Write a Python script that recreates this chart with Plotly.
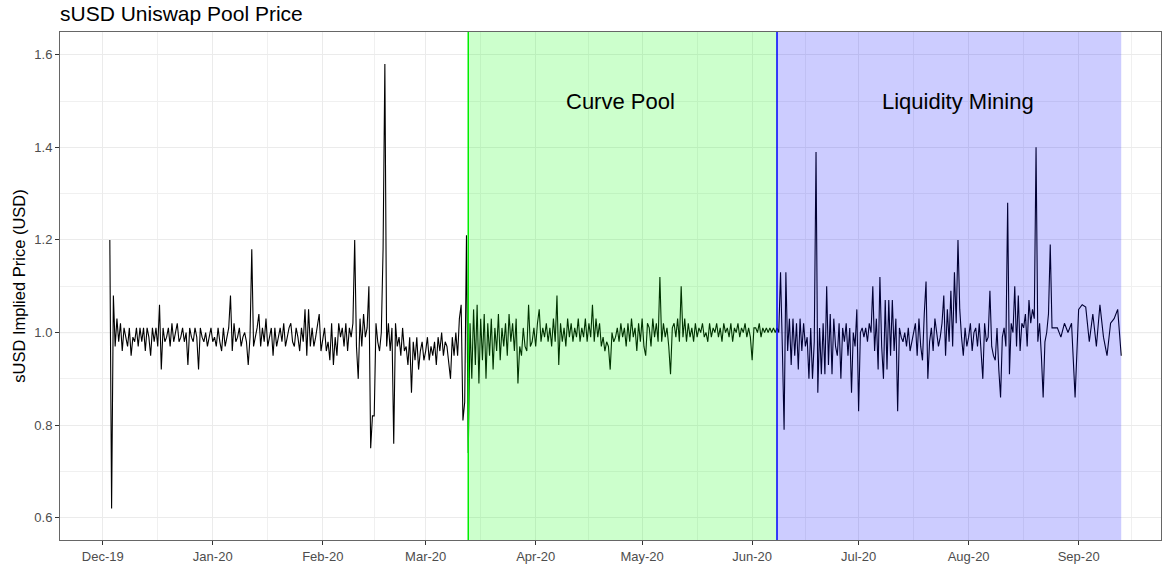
import pandas as pd
import plotly.graph_objects as go

# ---------------- data ----------------
# Two observations per day (00:00, 12:00), listed month by month
dec_2019_start = "2019-12-03"
dec_2019 = [1.20, 0.62, 1.08, 0.97, 1.03, 0.98, 1.02, 0.96, 1.01, 0.99, 0.97, 1.01, 0.95, 0.99,
            0.98, 1.01, 0.97, 1.01, 0.98, 1.01, 0.96, 1.01, 0.99, 0.95, 1.01, 0.98, 1.01, 0.97,
            1.06, 0.92, 1.01, 0.98, 0.99, 1.01, 0.97, 1.02, 0.98, 1.00, 1.02, 0.98, 0.99, 1.01,
            0.98, 1.00, 0.93, 1.01, 0.99, 0.98, 1.01, 0.99, 0.92, 1.01, 0.99, 0.98, 1.00, 0.97,
            0.99, 1.01]
jan_2020_start = "2020-01-01"
jan_2020 = [0.98, 0.99, 0.97, 1.01, 0.98, 0.96, 1.01, 0.97, 0.99, 1.01, 1.08, 0.96, 1.02, 0.98,
            0.99, 1.01, 0.97, 0.99, 1.00, 0.98, 0.93, 0.99, 1.18, 0.97, 0.99, 1.01, 1.04, 0.97,
            1.01, 0.98, 1.03, 0.97, 0.99, 1.01, 0.95, 1.01, 0.97, 0.99, 1.01, 0.98, 1.02, 0.97,
            0.99, 1.01, 1.02, 0.98, 0.97, 1.01, 0.99, 0.96, 1.01, 0.98, 1.05, 0.95, 1.05, 0.97,
            1.01, 0.97, 0.99, 1.02, 1.04, 0.96]
feb_2020_start = "2020-02-01"
feb_2020 = [0.99, 1.01, 0.96, 0.98, 0.94, 1.02, 0.93, 0.99, 0.95, 1.02, 0.99, 1.01, 0.97, 1.02,
            0.96, 1.01, 0.99, 1.02, 1.20, 0.97, 0.90, 1.03, 0.97, 1.04, 0.99, 1.01, 1.10, 0.75,
            0.82, 0.82, 1.02, 0.98, 0.96, 1.00, 1.18, 1.58, 0.97, 1.02, 0.96, 1.01, 0.76, 1.02,
            0.97, 0.99, 0.95, 1.01, 0.96, 0.97, 0.93, 0.99, 0.87, 0.98, 0.94, 0.99, 0.92, 0.96,
            0.98, 0.94]
mar_2020_start = "2020-03-01"
mar_2020 = [0.96, 0.99, 0.94, 0.97, 0.95, 0.98, 0.93, 0.99, 0.96, 1.00, 0.95, 0.98, 0.97, 0.93,
            0.90, 0.99, 0.95, 1.00, 0.95, 1.03, 1.06, 0.81, 0.85, 1.21, 0.74, 1.02, 0.90, 1.05,
            0.93, 1.06, 0.89, 1.03, 0.94, 1.04, 0.90, 1.02, 0.95, 1.03, 0.92, 1.01, 0.96, 1.04,
            0.94, 1.01, 0.97, 1.02, 0.95, 1.04, 0.98, 1.02, 0.96, 1.03, 0.89, 0.97, 0.95, 1.01,
            0.97, 0.96, 1.06, 0.97, 0.98, 1.01]
apr_2020_start = "2020-04-01"
apr_2020 = [0.97, 1.02, 1.05, 0.98, 1.01, 0.99, 1.02, 0.98, 1.01, 0.97, 1.03, 0.98, 1.08, 0.93,
            1.02, 0.98, 1.01, 0.97, 1.03, 0.99, 1.02, 0.98, 1.01, 0.99, 1.03, 0.98, 1.01, 0.99,
            1.03, 0.98, 1.02, 0.99, 1.06, 0.98, 1.03, 0.99, 1.02, 0.97, 0.99, 0.96, 0.98, 0.97,
            0.92, 1.00, 0.98, 0.99, 1.01, 0.98, 1.02, 0.99, 1.01, 0.97, 1.02, 0.98, 1.03, 0.99,
            1.01, 0.96, 1.02, 0.98]
may_2020_start = "2020-05-01"
may_2020 = [1.03, 0.97, 0.95, 1.02, 1.01, 0.97, 1.03, 0.99, 1.02, 0.98, 1.12, 0.98, 1.02, 0.99,
            1.01, 0.97, 0.91, 1.01, 1.02, 0.99, 1.03, 0.98, 1.10, 0.99, 1.03, 0.98, 1.02, 0.99,
            1.01, 0.98, 1.02, 0.99, 1.01, 1.00, 1.02, 0.99, 1.00, 0.98, 1.02, 0.99, 1.01, 1.00,
            1.02, 0.99, 1.01, 0.98, 1.02, 1.00, 1.01, 0.99, 1.02, 0.98, 1.01, 1.00, 1.02, 0.99,
            1.01, 1.00, 1.02, 0.99, 1.01, 0.99]
jun_2020_start = "2020-06-01"
jun_2020 = [0.94, 1.01, 1.01, 1.00, 1.02, 0.99, 1.01, 1.00, 1.01, 1.00, 1.01, 1.00, 1.01, 1.00,
            1.01, 1.00, 1.13, 0.97, 0.79, 1.13, 0.96, 1.03, 0.93, 1.03, 0.95, 1.02, 0.92, 1.03,
            0.96, 1.02, 0.97, 0.99, 0.90, 1.01, 0.90, 0.98, 1.39, 0.87, 1.01, 0.91, 1.02, 0.91,
            1.10, 0.93, 1.04, 0.91, 1.03, 0.97, 0.95, 1.02, 0.90, 1.01, 0.98, 1.02, 0.95, 1.01,
            0.87, 1.00, 0.97, 1.05]
jul_2020_start = "2020-07-01"
jul_2020 = [0.83, 1.00, 1.01, 0.99, 1.01, 0.98, 1.02, 1.00, 1.10, 0.96, 1.03, 0.92, 1.12, 0.97,
            0.90, 1.07, 0.92, 1.07, 0.95, 1.07, 0.96, 1.03, 0.83, 1.01, 0.99, 0.98, 1.00, 0.97,
            1.01, 0.96, 0.98, 1.00, 1.02, 0.95, 1.03, 0.97, 0.94, 1.04, 1.11, 0.90, 0.98, 1.01,
            0.96, 1.03, 1.00, 0.97, 0.99, 1.02, 1.08, 0.95, 1.05, 0.98, 1.09, 0.97, 1.13, 1.02,
            1.20, 1.05, 0.99, 0.95, 1.01, 0.97]
aug_2020_start = "2020-08-01"
aug_2020 = [0.99, 1.02, 0.96, 1.00, 1.01, 0.97, 1.02, 0.95, 0.90, 1.02, 0.98, 0.99, 1.09, 0.97,
            0.95, 0.94, 1.01, 0.92, 0.86, 0.99, 1.01, 0.97, 1.28, 0.91, 1.02, 1.00, 1.10, 0.97,
            1.08, 0.96, 1.02, 1.01, 1.04, 0.97, 1.07, 1.02, 1.05, 1.03, 1.40, 0.98, 1.02, 0.95,
            0.86, 0.98, 1.00, 1.04, 1.19, 1.01]
# One observation per day at the end of the series
late_start = "2020-08-25"
late_daily = [1.01, 1.01, 0.99, 1.02, 1.00, 1.02, 0.86, 1.05, 1.06, 1.055, 0.98, 1.04, 0.97,
              1.06, 0.99, 0.95, 1.02, 1.03, 1.05, 0.95]

# Period markers and labels
curve_pool_start = "2020-03-13"
liquidity_mining_start = "2020-06-08"
period_labels = ["Curve Pool", "Liquidity Mining"]
period_label_dates = ["2020-04-25", "2020-07-29"]
period_label_value = 1.5

# Axis ticks
month_ticks = ["2019-12-01", "2020-01-01", "2020-02-01", "2020-03-01", "2020-04-01",
               "2020-05-01", "2020-06-01", "2020-07-01", "2020-08-01", "2020-09-01"]
month_labels = ["Dec-19", "Jan-20", "Feb-20", "Mar-20", "Apr-20",
                "May-20", "Jun-20", "Jul-20", "Aug-20", "Sep-20"]
y_ticks = [0.6, 0.8, 1.0, 1.2, 1.4, 1.6]
y_minor = [0.7, 0.9, 1.1, 1.3, 1.5]

# ---------------- assemble series ----------------
half_daily_blocks = [(dec_2019_start, dec_2019), (jan_2020_start, jan_2020),
                     (feb_2020_start, feb_2020), (mar_2020_start, mar_2020),
                     (apr_2020_start, apr_2020), (may_2020_start, may_2020),
                     (jun_2020_start, jun_2020), (jul_2020_start, jul_2020),
                     (aug_2020_start, aug_2020)]
dates = []
prices = []
for start, vals in half_daily_blocks:
    dates.extend(pd.date_range(start, periods=len(vals), freq="12h"))
    prices.extend(vals)
dates.extend(pd.date_range(late_start, periods=len(late_daily), freq="D"))
prices.extend(late_daily)
series_end = dates[-1]

# minor x grid: midway between month ticks
mt = pd.to_datetime(month_ticks + ["2020-10-01"])
x_minor = [mt[i] + (mt[i + 1] - mt[i]) / 2 for i in range(len(mt) - 1)]

FONT = "Liberation Sans, Arial, Helvetica, sans-serif"

fig = go.Figure()
fig.add_trace(go.Scatter(x=dates, y=prices, mode="lines",
                         line=dict(color="black", width=1.1), hoverinfo="x+y",
                         showlegend=False))

shapes = [
    dict(type="line", xref="paper", x0=0, x1=1, yref="y", y0=1.0, y1=1.0,
         line=dict(color="#8c8c8c", width=1), layer="below"),
    dict(type="rect", xref="x", x0=curve_pool_start, x1=liquidity_mining_start,
         yref="paper", y0=0, y1=1, fillcolor="rgba(0,255,0,0.2)", line=dict(width=0),
         layer="above"),
    dict(type="rect", xref="x", x0=liquidity_mining_start, x1=series_end,
         yref="paper", y0=0, y1=1, fillcolor="rgba(0,0,255,0.2)", line=dict(width=0),
         layer="above"),
    dict(type="line", xref="x", x0=curve_pool_start, x1=curve_pool_start,
         yref="paper", y0=0, y1=1, line=dict(color="#00ee00", width=1.5), layer="above"),
    dict(type="line", xref="x", x0=liquidity_mining_start, x1=liquidity_mining_start,
         yref="paper", y0=0, y1=1, line=dict(color="#0000ff", width=1.5), layer="above"),
]

annotations = [
    dict(x=d, y=period_label_value, xref="x", yref="y", text=t, showarrow=False,
         font=dict(family=FONT, size=22, color="black"))
    for t, d in zip(period_labels, period_label_dates)
]

fig.update_layout(
    width=1167, height=565,
    margin=dict(l=60, r=6, t=32, b=25),
    paper_bgcolor="white", plot_bgcolor="white",
    font=dict(family=FONT, color="black"),
    title=dict(text="sUSD Uniswap Pool Price", x=0, xref="paper", xanchor="left",
               y=0.976, yref="container", yanchor="middle",
               font=dict(family=FONT, size=21, color="black")),
    shapes=shapes, annotations=annotations,
    xaxis=dict(type="date", range=["2019-11-18 23:00", "2020-09-24 05:00"],
               tickvals=month_ticks, ticktext=month_labels,
               ticks="outside", ticklen=4, tickcolor="#333333", tickwidth=1,
               tickfont=dict(family=FONT, size=13, color="#4d4d4d"),
               showgrid=True, gridcolor="#ebebeb", gridwidth=1.2,
               minor=dict(tickvals=x_minor, showgrid=True, gridcolor="#f0f0f0",
                          gridwidth=0.6, ticks=""),
               showline=True, linecolor="#666666", linewidth=1, mirror=True,
               zeroline=False, automargin=False),
    yaxis=dict(range=[0.552, 1.649], tickvals=y_ticks,
               ticktext=[f"{v:.1f}" for v in y_ticks],
               ticks="outside", ticklen=4, tickcolor="#333333", tickwidth=1,
               tickfont=dict(family=FONT, size=13, color="#4d4d4d"),
               showgrid=True, gridcolor="#ebebeb", gridwidth=1.2,
               minor=dict(tickvals=y_minor, showgrid=True, gridcolor="#f0f0f0",
                          gridwidth=0.6, ticks=""),
               showline=True, linecolor="#666666", linewidth=1, mirror=True,
               zeroline=False, automargin=False,
               title=dict(text="sUSD Implied Price (USD)", standoff=4,
                          font=dict(family=FONT, size=16.5, color="black"))),
)

fig.write_html("out.html", config={"displayModeBar": False},
               post_script="document.body.style.margin='0';document.body.style.padding='0';")
